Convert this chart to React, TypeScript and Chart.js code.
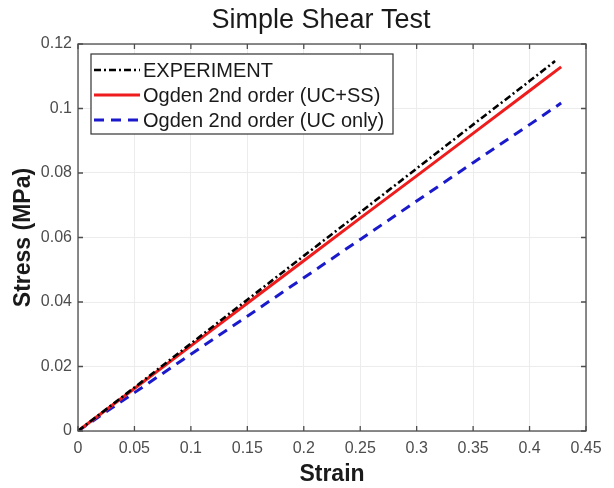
import React, { useEffect, useRef } from "react";
import { Chart, registerables } from "chart.js";

Chart.register(...registerables);

const TITLE = "Simple Shear Test";
const X_LABEL = "Strain";
const Y_LABEL = "Stress (MPa)";

const xTickLabels = ["0", "0.05", "0.1", "0.15", "0.2", "0.25", "0.3", "0.35", "0.4", "0.45"];
const yTickLabels = ["0", "0.02", "0.04", "0.06", "0.08", "0.1", "0.12"];

const expStrain = [0, 0.05, 0.1, 0.15, 0.2, 0.25, 0.3, 0.35, 0.4, 0.4226];
const expStress = [0, 0.0135, 0.0271, 0.0407, 0.0543, 0.0678, 0.0814, 0.095, 0.1085, 0.1147];

const ucssStrain = [0, 0.05, 0.1, 0.15, 0.2, 0.25, 0.3, 0.35, 0.4, 0.428];
const ucssStress = [0, 0.0132, 0.0264, 0.0396, 0.0528, 0.066, 0.0791, 0.0923, 0.1055, 0.1129];

const ucStrain = [0, 0.05, 0.1, 0.15, 0.2, 0.25, 0.3, 0.35, 0.4, 0.428];
const ucStress = [0, 0.0119, 0.0238, 0.0356, 0.0475, 0.0594, 0.0713, 0.0832, 0.095, 0.1017];

const seriesNames = ["EXPERIMENT", "Ogden 2nd order (UC+SS)", "Ogden 2nd order (UC only)"];

const FONT = "'Liberation Sans', Arial, sans-serif";

const toPts = (xs: number[], ys: number[]) => xs.map((x, i) => ({ x, y: ys[i] }));

const decor = {
  id: "decor",
  afterDraw(chart: any) {
    const ctx = chart.ctx as CanvasRenderingContext2D;
    const { left, right, top, bottom } = chart.chartArea;
    ctx.save();
    // box
    ctx.strokeStyle = "#4d4d4d";
    ctx.lineWidth = 1.3;
    ctx.setLineDash([]);
    ctx.strokeRect(left, top, right - left, bottom - top);
    // inward ticks
    const xs = chart.scales.x;
    const ys = chart.scales.y;
    ctx.beginPath();
    xs.ticks.forEach((t: any) => {
      const px = xs.getPixelForValue(t.value);
      ctx.moveTo(px, bottom);
      ctx.lineTo(px, bottom - 5);
      ctx.moveTo(px, top);
      ctx.lineTo(px, top + 5);
    });
    ys.ticks.forEach((t: any) => {
      const py = ys.getPixelForValue(t.value);
      ctx.moveTo(left, py);
      ctx.lineTo(left + 5, py);
      ctx.moveTo(right, py);
      ctx.lineTo(right - 5, py);
    });
    ctx.stroke();

    // title
    ctx.fillStyle = "#1a1a1a";
    ctx.font = `27px ${FONT}`;
    ctx.textAlign = "center";
    ctx.textBaseline = "middle";
    ctx.fillText(TITLE, 321, 21);

    // legend
    const lx = left + 13;
    const ly = top + 10;
    const lw = 302;
    const lh = 80;
    ctx.fillStyle = "#ffffff";
    ctx.fillRect(lx, ly, lw, lh);
    ctx.strokeStyle = "#333333";
    ctx.lineWidth = 1.2;
    ctx.strokeRect(lx, ly, lw, lh);
    const rows = [ly + 16, ly + 41, ly + 66];
    chart.data.datasets.forEach((ds: any, i: number) => {
      const y = rows[i];
      ctx.beginPath();
      ctx.strokeStyle = ds.borderColor;
      ctx.lineWidth = ds.borderWidth;
      ctx.setLineDash(ds.borderDash || []);
      ctx.moveTo(lx + 3, y);
      ctx.lineTo(lx + 49, y);
      ctx.stroke();
      ctx.setLineDash([]);
      ctx.fillStyle = "#1a1a1a";
      ctx.font = `20px ${FONT}`;
      ctx.textAlign = "left";
      ctx.textBaseline = "middle";
      ctx.fillText(ds.label, lx + 52, y + 1);
    });
    ctx.restore();
  },
};

export default function App() {
  const ref = useRef<HTMLCanvasElement | null>(null);
  useEffect(() => {
    if (!ref.current) return;
    const chart = new Chart(ref.current, {
      type: "line",
      data: {
        datasets: [
          {
            label: seriesNames[0],
            data: toPts(expStrain, expStress),
            borderColor: "#000000",
            borderWidth: 2.6,
            borderDash: [7, 3, 2, 3],
            pointRadius: 0,
            fill: false,
            tension: 0,
          },
          {
            label: seriesNames[1],
            data: toPts(ucssStrain, ucssStress),
            borderColor: "#ee1c1c",
            borderWidth: 3,
            pointRadius: 0,
            fill: false,
            tension: 0,
          },
          {
            label: seriesNames[2],
            data: toPts(ucStrain, ucStress),
            borderColor: "#1a1acc",
            borderWidth: 3,
            borderDash: [10, 7],
            pointRadius: 0,
            fill: false,
            tension: 0,
          },
        ],
      },
      options: {
        animation: false,
        responsive: false,
        maintainAspectRatio: false,
        layout: { padding: { top: 44, right: 28, left: 0, bottom: 0 } },
        plugins: {
          legend: { display: false },
          title: { display: false },
          tooltip: { enabled: false },
        },
        scales: {
          x: {
            type: "linear",
            min: 0,
            max: 0.45,
            afterFit: (s: any) => {
              s.height = 57;
            },
            afterBuildTicks: (s: any) => {
              s.ticks = xTickLabels.map((l) => ({ value: parseFloat(l) }));
            },
            ticks: {
              callback: (_v: any, i: number) => xTickLabels[i],
              color: "#4d4d4d",
              font: { family: FONT, size: 16 },
              padding: 8,
              maxRotation: 0,
            },
            grid: { color: "#ececec", drawTicks: false, lineWidth: 1 },
            border: { display: false },
            title: {
              display: true,
              text: X_LABEL,
              color: "#1a1a1a",
              font: { family: FONT, size: 23, weight: "bold" },
              padding: { top: 0, bottom: 0 },
            },
          },
          y: {
            type: "linear",
            min: 0,
            max: 0.12,
            afterFit: (s: any) => {
              s.width = 78;
            },
            afterBuildTicks: (s: any) => {
              s.ticks = yTickLabels.map((l) => ({ value: parseFloat(l) }));
            },
            ticks: {
              callback: (_v: any, i: number) => yTickLabels[i],
              color: "#4d4d4d",
              font: { family: FONT, size: 16 },
              padding: 6,
            },
            grid: { color: "#ececec", drawTicks: false, lineWidth: 1 },
            border: { display: false },
            title: {
              display: true,
              text: Y_LABEL,
              color: "#1a1a1a",
              font: { family: FONT, size: 23, weight: "bold" },
              padding: { top: 10, bottom: 0 },
            },
          },
        },
      },
      plugins: [decor],
    } as any);
    return () => chart.destroy();
  }, []);
  return (
    <div style={{ position: "absolute", left: 0, top: 0, width: 614, height: 488, background: "#fff" }}>
      <canvas ref={ref} width={614} height={488} style={{ display: "block", width: 614, height: 488 }} />
    </div>
  );
}
